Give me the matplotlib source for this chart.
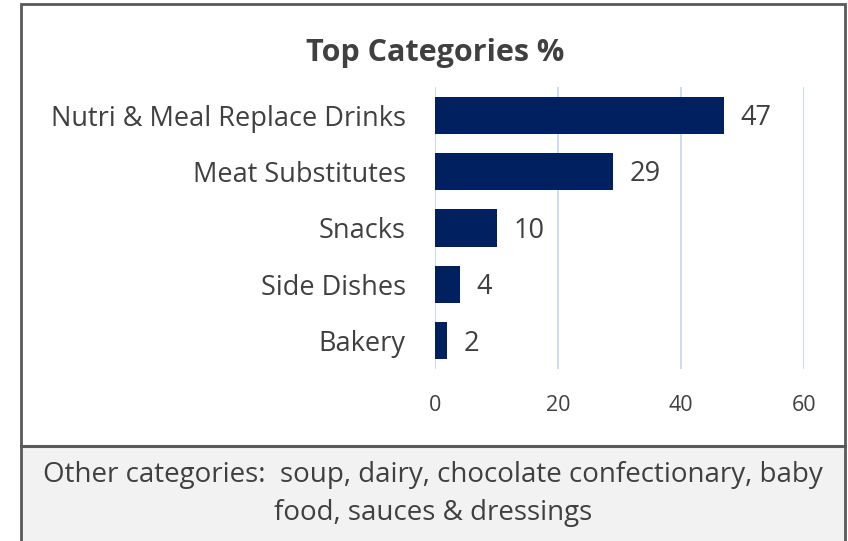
import matplotlib.pyplot as plt
from matplotlib.patches import Rectangle

categories = ['Nutri & Meal Replace Drinks', 'Meat Substitutes', 'Snacks', 'Side Dishes', 'Bakery']
values = [47, 29, 10, 4, 2]
xticks = [0, 20, 40, 60]
title = 'Top Categories %'
note = 'Other categories:  soup, dairy, chocolate confectionary, baby\nfood, sauces & dressings'

W, H = 848, 541
text_col = '#404040'
bar_col = '#002060'
grid_col = '#c9d8f7'
edge_col = '#595959'

plt.rcParams['font.family'] = ['Open Sans', 'DejaVu Sans']

fig = plt.figure(figsize=(W / 100, H / 100), dpi=100)

# boxes around chart and note
fig.patches.append(Rectangle((21 / W, 0), 824 / W, 1 - 446 / H, transform=fig.transFigure,
                             facecolor='#f2f2f2', edgecolor='none', zorder=0))
fig.patches.append(Rectangle((21 / W, -0.01), 824 / W, 1.01 - 4 / H, transform=fig.transFigure,
                             facecolor='none', edgecolor=edge_col, lw=2, zorder=5))
fig.add_artist(plt.Line2D([21 / W, 845 / W], [1 - 446 / H] * 2, transform=fig.transFigure,
                          color=edge_col, lw=2.2, zorder=5))

ax = fig.add_axes([435 / W, 1 - 369 / H, 369 / W, 282 / H])
ax.set_facecolor('none')
pos = list(range(len(categories)))
ax.barh(pos, values, height=0.66, color=bar_col, zorder=2)
for p, v in zip(pos, values):
    ax.text(v + 2.7, p + 0.05, str(v), va='center', ha='left', fontsize=19.5, color=text_col)

ax.set_xlim(0, 60)
ax.set_ylim(len(categories) - 0.5, -0.5)
ax.set_xticks(xticks)
ax.set_yticks(pos)
ax.set_yticklabels(categories)
ax.tick_params(axis='y', length=0, pad=21, labelsize=19.5, labelcolor=text_col)
ax.tick_params(axis='x', length=0, pad=19, labelsize=15.5, labelcolor=text_col)
ax.grid(axis='x', color=grid_col, lw=1.3, zorder=0)
for s in ax.spines.values():
    s.set_visible(False)

fig.text(435 / W, 1 - 53 / H, title, ha='center', va='center', fontsize=22,
         fontweight='bold', color=text_col)
fig.text(433 / W, 1 - 494 / H, note, ha='center', va='center', fontsize=20,
         color=text_col, linespacing=1.45)

fig.savefig('out.png', dpi=100)
